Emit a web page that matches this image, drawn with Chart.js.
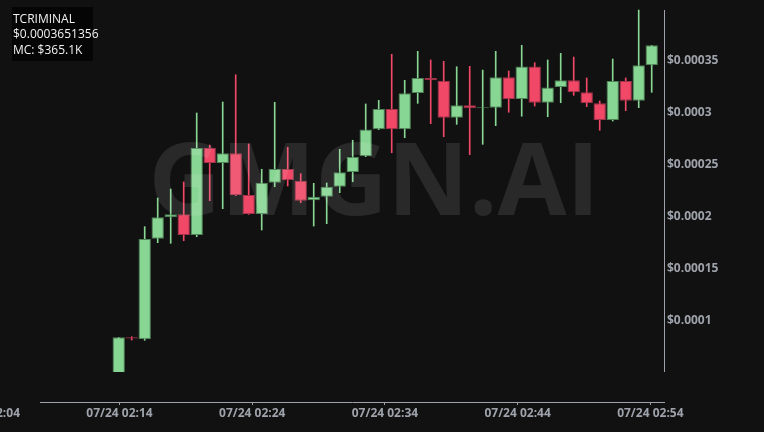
<!DOCTYPE html>
<html>
<head>
<meta charset="utf-8">
<script src="https://cdn.jsdelivr.net/npm/chart.js@4.4.7/dist/chart.umd.min.js"></script>
<style>
  html, body { margin: 0; padding: 0; background: #111111; }
  #wrap { position: relative; width: 764px; height: 432px; overflow: hidden; }
  #info { position: absolute; left: 12px; top: 7px; width: 80px; height: 50px; padding: 4px 0 0 1px;
          background: #050505; color: #f2f2f2; font: 12px "Open Sans", sans-serif; line-height: 15.3px; white-space: nowrap; }
  #mark { position: absolute; left: 374px; top: 126px; transform: translateX(-50%); pointer-events: none;
          font: 700 100px "Open Sans", sans-serif; line-height: 100px; color: rgba(255,255,255,0.1); white-space: nowrap; }
</style>
</head>
<body>
<div id="wrap">
  <canvas id="chart" width="764" height="432"></canvas>
  <div id="mark">GMGN.AI</div>
  <div id="info">TCRIMINAL<br>$0.0003651356<br>MC: $365.1K</div>
</div>
<script>
// one candle per bar, left to right
var opens  = [0.0000400, 0.0000843, 0.0000824, 0.0001791, 0.0001997, 0.0002026, 0.0001827, 0.0002663, 0.0002519, 0.0002612,
              0.0002212, 0.0002029, 0.0002330, 0.0002462, 0.0002349, 0.0002161, 0.0002195, 0.0002291, 0.0002433, 0.0002584,
              0.0002843, 0.0003038, 0.0002843, 0.0003192, 0.0003337, 0.0003311, 0.0002955, 0.0003074, 0.0003045, 0.0003051,
              0.0003343, 0.0003135, 0.0003447, 0.0003099, 0.0003250, 0.0003314, 0.0003199, 0.0003093, 0.0002933, 0.0003308,
              0.0003118, 0.0003459];
var closes = [0.0000843, 0.0000832, 0.0001788, 0.0001997, 0.0002026, 0.0001827, 0.0002663, 0.0002519, 0.0002612, 0.0002212,
              0.0002029, 0.0002330, 0.0002462, 0.0002353, 0.0002157, 0.0002195, 0.0002291, 0.0002430, 0.0002580, 0.0002841,
              0.0003038, 0.0002843, 0.0003189, 0.0003337, 0.0003314, 0.0002955, 0.0003074, 0.0003045, 0.0003051, 0.0003343,
              0.0003135, 0.0003447, 0.0003099, 0.0003245, 0.0003314, 0.0003199, 0.0003093, 0.0002933, 0.0003308, 0.0003118,
              0.0003459, 0.0003651];
var highs  = [0.0000843, 0.0000849, 0.0001907, 0.0002183, 0.0002269, 0.0002337, 0.0003000, 0.0002692, 0.0003106, 0.0003368,
              0.0002702, 0.0002459, 0.0003103, 0.0002670, 0.0002416, 0.0002324, 0.0002327, 0.0002651, 0.0002738, 0.0003087,
              0.0003122, 0.0003564, 0.0003314, 0.0003593, 0.0003510, 0.0003497, 0.0003445, 0.0003449, 0.0003413, 0.0003593,
              0.0003404, 0.0003651, 0.0003484, 0.0003510, 0.0003574, 0.0003538, 0.0003337, 0.0003115, 0.0003519, 0.0003337,
              0.0003990, 0.0003651];
var lows   = [0.0000300, 0.0000817, 0.0000814, 0.0001753, 0.0001747, 0.0001772, 0.0001811, 0.0002157, 0.0002080, 0.0002205,
              0.0002025, 0.0001875, 0.0002291, 0.0002298, 0.0002138, 0.0001913, 0.0001936, 0.0002234, 0.0002339, 0.0002580,
              0.0002840, 0.0002618, 0.0002762, 0.0003093, 0.0002897, 0.0002772, 0.0002891, 0.0002599, 0.0002699, 0.0002878,
              0.0003007, 0.0002969, 0.0003067, 0.0002964, 0.0003099, 0.0003170, 0.0003061, 0.0002834, 0.0002923, 0.0003022,
              0.0003051, 0.0003199];

var yTicks = [0.0001, 0.00015, 0.0002, 0.00025, 0.0003, 0.00035];
var xTickMinutes = [4, 14, 24, 34, 44, 54];
var xTickLabels = ["07/24 02:04", "07/24 02:14", "07/24 02:24", "07/24 02:34", "07/24 02:44", "07/24 02:54"];

var UP = "#88D693", DOWN = "#F04866";
var UP_EDGE = "#4f8458", DOWN_EDGE = "#a3334b";
var AXIS = "#9ea3ab";
var PLOT_GAP = 30; // candles stop 30px above the time axis

function isUp(i) { return closes[i] >= opens[i]; }

var bodies = [], wicks = [];
for (var i = 0; i < opens.length; i++) {
    bodies.push({ x: i, y: [opens[i], closes[i]] });
    wicks.push({ x: i, y: [lows[i], highs[i]] });
}

var yAxisLine = {
    id: "yAxisLine",
    afterDraw: function (chart) {
        var a = chart.chartArea, ctx = chart.ctx;
        ctx.save();
        ctx.strokeStyle = AXIS;
        ctx.lineWidth = 1;
        ctx.beginPath();
        ctx.moveTo(a.right + 0.5, a.top + 1);
        ctx.lineTo(a.right + 0.5, a.bottom - PLOT_GAP);
        ctx.stroke();
        ctx.restore();
    }
};

Chart.defaults.font.family = '"Open Sans", sans-serif';

new Chart(document.getElementById("chart"), {
    type: "bar",
    data: {
        datasets: [
            {
                label: "body", data: bodies, order: 1, grouped: false,
                backgroundColor: function (c) { return isUp(c.dataIndex) ? UP : DOWN; },
                borderColor: function (c) { return isUp(c.dataIndex) ? UP_EDGE : DOWN_EDGE; },
                borderWidth: 1, borderSkipped: false, minBarLength: 1,
                barPercentage: 0.95, categoryPercentage: 1,
                clip: { left: 0, top: 0, right: 0, bottom: -PLOT_GAP }
            },
            {
                label: "wick", data: wicks, order: 2, grouped: false,
                backgroundColor: function (c) { return isUp(c.dataIndex) ? UP : DOWN; },
                borderWidth: 0, barThickness: 1,
                clip: { left: 0, top: 0, right: 0, bottom: -PLOT_GAP }
            }
        ]
    },
    options: {
        responsive: false,
        animation: false,
        layout: { padding: { left: 40, top: 9, right: 0, bottom: 0 }, autoPadding: false },
        plugins: { legend: { display: false }, tooltip: { enabled: false } },
        scales: {
            x: {
                type: "linear", display: false, min: -6.054, max: 41.946,
                offset: false, grid: { offset: false }
            },
            x2: {
                type: "linear", position: "bottom", min: 8.009, max: 55.03,
                offset: false,
                grid: { offset: false, drawOnChartArea: false, color: AXIS, tickLength: 3 },
                border: { color: AXIS },
                ticks: {
                    autoSkip: false, maxRotation: 0, padding: 1, color: AXIS,
                    font: { size: 12, weight: "bold" },
                    callback: function (v) { return xTickLabels[xTickMinutes.indexOf(v)]; }
                },
                afterBuildTicks: function (s) { s.ticks = xTickMinutes.map(function (v) { return { value: v }; }); },
                afterFit: function (s) { s.height = 30; s.paddingLeft = 0; s.paddingRight = 0; }
            },
            y: {
                position: "right", min: 0.00002212, max: 0.0004,
                grid: { display: false, drawTicks: false },
                border: { display: false },
                ticks: {
                    padding: 3, color: AXIS,
                    font: { size: 12, weight: "bold" },
                    callback: function (v) { return "$" + v; }
                },
                afterBuildTicks: function (s) { s.ticks = yTicks.map(function (v) { return { value: v }; }); },
                afterFit: function (s) { s.width = 100; s.paddingTop = 0; s.paddingBottom = 0; }
            }
        }
    },
    plugins: [yAxisLine]
});
</script>
</body>
</html>
